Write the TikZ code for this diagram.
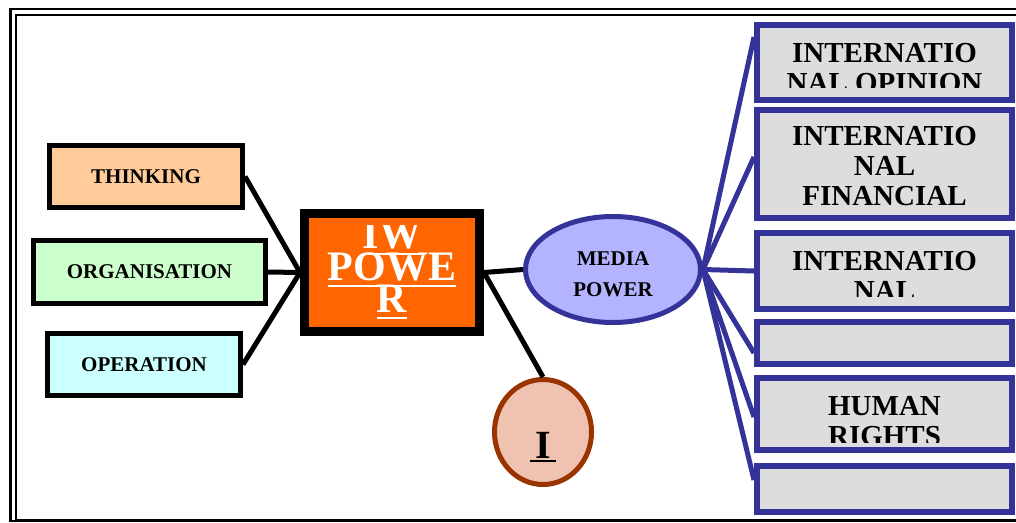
\documentclass[tikz,border=0pt]{standalone}
\usepackage{fontspec}
\setmainfont{Liberation Serif}
\usetikzlibrary{shapes.geometric,calc}
\definecolor{navy}{HTML}{333399}
\definecolor{thinkfill}{HTML}{FFCC99}
\definecolor{orgfill}{HTML}{CCFFCC}
\definecolor{opfill}{HTML}{CCFFFF}
\definecolor{powerfill}{HTML}{FF6600}
\definecolor{medfill}{HTML}{B3B3FF}
\definecolor{pinkfill}{HTML}{F0C2B2}
\definecolor{rust}{HTML}{993300}
\definecolor{boxgray}{HTML}{DDDDDD}
\newcommand\tlines[2]{\vtop{\baselineskip=#1\relax\lineskiplimit=-1000pt\lineskip=0pt\halign{\hfil##\hfil\cr#2\crcr}}}
\newcommand\myul[1]{\setbox0=\hbox{#1}\rlap{\rule[-7pt]{\wd0}{2.5pt}}\box0}
\begin{document}
\begin{tikzpicture}[x=1pt,y=-1pt,
  lbox/.style={draw=black, line width=5pt, minimum width=193pt, minimum height=62pt, inner sep=0pt, font=\fontsize{21}{24}\selectfont\bfseries},
  rbox/.style={draw=navy, fill=boxgray, line width=6pt, minimum width=255pt, inner sep=0pt},
  blk/.style={draw=black, line width=5pt},
  blu/.style={draw=navy, line width=5pt},
  rtext/.style={anchor=base, inner sep=0pt, font=\fontsize{29}{30}\selectfont\bfseries}]
\useasboundingbox (0,0) rectangle (1016,522);
% frame
\draw[line width=2.2pt] (10.5,9) rectangle (1030,521);
\draw[line width=2pt] (15.5,14.5) rectangle (1025,519.5);
% left boxes
\node[lbox, fill=thinkfill] (think) at (146,176.5) {THINKING};
\node[lbox, fill=orgfill, minimum width=232pt, minimum height=63pt] (org) at (149.5,272) {ORGANISATION};
\node[lbox, fill=opfill] (oper) at (144,364.5) {OPERATION};
% power box
\node[draw=black, line width=9pt, fill=powerfill, minimum width=175pt, minimum height=118pt, inner sep=0pt] (power) at (392,272.5) {};
\begin{scope}
\clip (309,225) rectangle (475,327);
\node[anchor=base, inner sep=0pt, text=white, font=\fontsize{42}{32}\selectfont\bfseries] (powertext) at (392,248) {\tlines{32pt}{\myul{IW}\cr\myul{POWE}\cr\myul{R}}};
\end{scope}
% media
\node[ellipse, draw=navy, fill=medfill, line width=5pt, minimum width=175pt, minimum height=106pt, inner sep=0pt] (media) at (613,269.5) {};
\node[anchor=base, inner sep=0pt, font=\fontsize{21}{31}\selectfont\bfseries] (mtext) at (613,265) {\tlines{31pt}{MEDIA\cr POWER}};
% I circle
\node[ellipse, draw=rust, fill=pinkfill, line width=5pt, minimum width=97pt, minimum height=105pt, inner sep=0pt] (icirc) at (543,432) {};
\node[anchor=base, inner sep=0pt, font=\fontsize{40}{40}\selectfont\bfseries] (itext) at (543,458) {I};
\draw[line width=2pt] ([xshift=-13pt,yshift=-3pt]itext.base) -- ([xshift=13pt,yshift=-3pt]itext.base);
% right boxes
\node[rbox, minimum height=75pt] (b1) at (884.5,62.5) {};
\node[rbox, minimum height=108pt] (b2) at (884.5,164) {};
\node[rbox, minimum height=76pt] (b3) at (884.5,271) {};
\node[rbox, minimum height=42pt] (b4) at (884.5,343) {};
\node[rbox, minimum height=72pt] (b5) at (884.5,414) {};
\node[rbox, minimum height=46pt] (b6) at (884.5,489) {};
\begin{scope}
\clip (757,25) rectangle (1012,87);
\node[rtext] (t1) at (884.5,62) {\tlines{30pt}{INTERNATIO\cr NAL OPINION}};
\end{scope}
\node[rtext] (t2) at (884.5,145) {\tlines{30pt}{INTERNATIO\cr NAL\cr FINANCIAL}};
\begin{scope}
\clip (757,233) rectangle (1012,296);
\node[rtext] (t3) at (884.5,270) {\tlines{30pt}{INTERNATIO\cr NAL}};
\end{scope}
\begin{scope}
\clip (757,378) rectangle (1012,442);
\node[rtext] (t5) at (884.5,415) {\tlines{30pt}{HUMAN\cr RIGHTS}};
\end{scope}
% black connectors
\draw[blk] (think.east) -- (power.west);
\draw[blk] (org.east) -- (power.west);
\draw[blk] (oper.east) -- (power.west);
\draw[blk] (power.east) -- (media.west);
\draw[blk] (power.east) -- (icirc.north);
% blue connectors
\draw[blu] (media.east) -- ([yshift=25.5pt]b1.west);
\draw[blu] (media.east) -- ([yshift=7pt]b2.west);
\draw[blu] (media.east) -- (b3.west);
\draw[blu] (media.east) -- ([yshift=-10pt]b4.west);
\draw[blu] (media.east) -- ([yshift=-3pt]b5.west);
\draw[blu] (media.east) -- ([yshift=9pt]b6.west);
\end{tikzpicture}
\end{document}
